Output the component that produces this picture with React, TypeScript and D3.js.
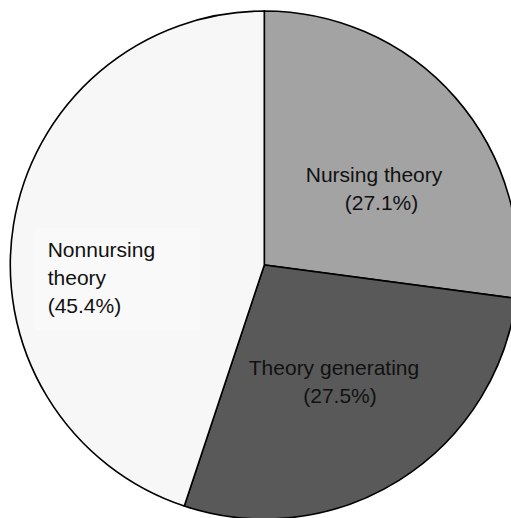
import React from "react";
import * as d3 from "d3";

const categories = ["Nursing theory", "Theory generating", "Nonnursing theory"];
const sliceValues = [27.1, 28.0, 44.9];
const percentLabels = ["(27.1%)", "(27.5%)", "(45.4%)"];
const sliceColors = ["#a3a3a3", "#595959", "#f7f7f7"];

const W = 511;
const H = 518;
const cx = 264.3;
const cy = 265;
const R = 254;

export default function App() {
  const pie = d3.pie<number>().sort(null).value((d) => d)(sliceValues);
  const arc = d3.arc<d3.PieArcDatum<number>>().innerRadius(0).outerRadius(R);
  const font = "'Liberation Sans', Arial, sans-serif";
  return (
    <svg
      width={W}
      height={H}
      style={{ position: "absolute", left: 0, top: 0, display: "block", background: "#fff" }}
    >
      <g transform={`translate(${cx},${cy})`}>
        {pie.map((p, i) => (
          <path key={i} d={arc(p) || ""} fill={sliceColors[i]} stroke="#000" strokeWidth={1.6} />
        ))}
      </g>
      <rect x={35} y={228} width={165} height={102} fill="#f9f9f9" />
      <g fontFamily={font} fontSize={21} fill="#111">
        <text x={374} y={182} textAnchor="middle">{categories[0]}</text>
        <text x={381.5} y={210} textAnchor="middle">{percentLabels[0]}</text>
        <text x={334} y={375} textAnchor="middle">{categories[1]}</text>
        <text x={340} y={403} textAnchor="middle">{percentLabels[1]}</text>
        <text x={47.7} y={256.5}>Nonnursing</text>
        <text x={47.7} y={284.5}>theory</text>
        <text x={47.7} y={312.5}>{percentLabels[2]}</text>
      </g>
    </svg>
  );
}
